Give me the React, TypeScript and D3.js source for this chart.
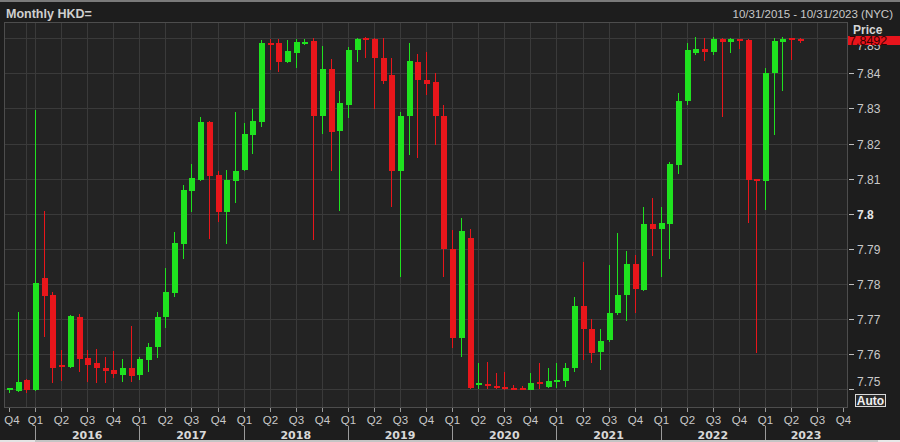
import React from "react";
import * as d3 from "d3";

// Monthly candles, Oct 2015 .. May 2023 (index 0 = Oct 2015)
const openV = [
  7.7497, 7.7495, 7.7526, 7.7499, 7.7818, 7.7768, 7.7568, 7.7564, 7.7707, 7.7588,
  7.7574, 7.7562, 7.7554, 7.7541, 7.7561, 7.7540, 7.7583, 7.7621, 7.7705, 7.7773,
  7.7914, 7.8066, 7.8097, 7.8260, 7.8110, 7.8006, 7.8094, 7.8124, 7.8225, 7.8262,
  7.8487, 7.8486, 7.8432, 7.8459, 7.8485, 7.8492, 7.8277, 7.8411, 7.8236, 7.8310,
  7.8465, 7.8499, 7.8497, 7.8444, 7.8395, 7.8123, 7.8277, 7.8431, 7.8381, 7.8374,
  7.8277, 7.7900, 7.7645, 7.7932, 7.7512, 7.7513, 7.7508, 7.7505, 7.7503, 7.7502,
  7.7499, 7.7521, 7.7507, 7.7522, 7.7525, 7.7562, 7.7737, 7.7671, 7.7607, 7.7640,
  7.7716, 7.7768, 7.7856, 7.7783, 7.7971, 7.7956, 7.7971, 7.8139, 7.8322, 7.8457,
  7.8469, 7.8461, 7.8497, 7.8490, 7.8497, 7.8494, 7.8098, 7.8094, 7.8402, 7.8490,
  7.8498, 7.8498,
];
const highV = [
  7.7505, 7.7721, 7.7529, 7.8295, 7.8009, 7.7776, 7.7612, 7.7713, 7.7715, 7.7612,
  7.7615, 7.7591, 7.7609, 7.7586, 7.7680, 7.7592, 7.7631, 7.7721, 7.7846, 7.7949,
  7.8082, 7.8142, 7.8275, 7.8263, 7.8122, 7.8126, 7.8291, 7.8258, 7.8298, 7.8495,
  7.8498, 7.8497, 7.8495, 7.8497, 7.8497, 7.8500, 7.8478, 7.8440, 7.8350, 7.8476,
  7.8500, 7.8503, 7.8500, 7.8500, 7.8443, 7.8290, 7.8485, 7.8455, 7.8461, 7.8400,
  7.8310, 7.7954, 7.7987, 7.7956, 7.7574, 7.7579, 7.7546, 7.7550, 7.7512, 7.7508,
  7.7547, 7.7574, 7.7560, 7.7574, 7.7576, 7.7764, 7.7863, 7.7699, 7.7671, 7.7854,
  7.7944, 7.7894, 7.7883, 7.8020, 7.8044, 7.8020, 7.8148, 7.8345, 7.8485, 7.8502,
  7.8500, 7.8502, 7.8500, 7.8500, 7.8499, 7.8499, 7.8100, 7.8414, 7.8500, 7.8502,
  7.8500, 7.8500,
];
const lowV = [
  7.7490, 7.7493, 7.7490, 7.7495, 7.7650, 7.7517, 7.7524, 7.7561, 7.7550, 7.7521,
  7.7517, 7.7517, 7.7532, 7.7521, 7.7521, 7.7527, 7.7550, 7.7588, 7.7676, 7.7764,
  7.7870, 7.8006, 7.8094, 7.7928, 7.7977, 7.7914, 7.8032, 7.8121, 7.8169, 7.8246,
  7.8409, 7.8405, 7.8428, 7.8414, 7.8480, 7.7925, 7.8227, 7.8122, 7.8008, 7.8272,
  7.8431, 7.8445, 7.8298, 7.8370, 7.8018, 7.7819, 7.8167, 7.8160, 7.8338, 7.8196,
  7.7821, 7.7617, 7.7593, 7.7500, 7.7500, 7.7500, 7.7500, 7.7499, 7.7498, 7.7498,
  7.7497, 7.7500, 7.7503, 7.7505, 7.7506, 7.7550, 7.7583, 7.7576, 7.7555, 7.7636,
  7.7712, 7.7695, 7.7716, 7.7781, 7.7880, 7.7821, 7.7870, 7.8113, 7.8310, 7.8451,
  7.8434, 7.8452, 7.8275, 7.8459, 7.8470, 7.7973, 7.7604, 7.8011, 7.8224, 7.8351,
  7.8438, 7.8487,
];
const closeV = [
  7.7502, 7.7522, 7.7499, 7.7802, 7.7766, 7.7562, 7.7564, 7.7709, 7.7586, 7.7569,
  7.7562, 7.7553, 7.7543, 7.7562, 7.7539, 7.7586, 7.7621, 7.7707, 7.7776, 7.7916,
  7.8068, 7.8101, 7.8260, 7.8107, 7.8004, 7.8097, 7.8123, 7.8227, 7.8264, 7.8486,
  7.8481, 7.8433, 7.8464, 7.8490, 7.8489, 7.8277, 7.8411, 7.8234, 7.8316, 7.8466,
  7.8497, 7.8497, 7.8443, 7.8379, 7.8123, 7.8278, 7.8436, 7.8381, 7.8370, 7.8277,
  7.7899, 7.7645, 7.7951, 7.7503, 7.7517, 7.7509, 7.7504, 7.7502, 7.7501, 7.7500,
  7.7517, 7.7517, 7.7523, 7.7526, 7.7561, 7.7737, 7.7671, 7.7604, 7.7638, 7.7718,
  7.7770, 7.7856, 7.7785, 7.7971, 7.7956, 7.7975, 7.8141, 7.8322, 7.8466, 7.8469,
  7.8461, 7.8497, 7.8490, 7.8497, 7.8494, 7.8096, 7.8094, 7.8402, 7.8492, 7.8497,
  7.8496, 7.8492,
];

const priceTicks = [7.75, 7.76, 7.77, 7.78, 7.79, 7.8, 7.81, 7.82, 7.83, 7.84, 7.85];
const quarterLabels = [
  "Q4",
  "Q1", "Q2", "Q3", "Q4",
  "Q1", "Q2", "Q3", "Q4",
  "Q1", "Q2", "Q3", "Q4",
  "Q1", "Q2", "Q3", "Q4",
  "Q1", "Q2", "Q3", "Q4",
  "Q1", "Q2", "Q3", "Q4",
  "Q1", "Q2", "Q3", "Q4",
  "Q1", "Q2", "Q3", "Q4",
];
const yearLabels = ["2016", "2017", "2018", "2019", "2020", "2021", "2022", "2023"];
const lastPrice = 7.8492;
const titleText = "Monthly HKD=";
const rangeText = "10/31/2015 - 10/31/2023 (NYC)";

const W = 900;
const H = 442;
const PL = 4.5, PR = 847, PT = 22.5, PB = 407;
const UP = "#1fe21f";
const DOWN = "#e8161b";
const TXT = "#c9c9c9";
const AX_FONT = "'Liberation Sans', Arial, sans-serif";

export default function App() {
  const x = d3.scaleLinear().domain([0, 96]).range([9, 843.2]);
  const y = d3.scaleLinear().domain([7.75, 7.84]).range([389.3, 73.3]);

  const candles = openV.map((o, i) => ({
    i,
    o,
    h: highV[i],
    l: lowV[i],
    c: closeV[i],
  }));

  const quarterIdx = quarterLabels.map((_, k) => k * 3);
  const gridIdx = [2, ...quarterIdx.filter((q) => q > 0 && q < 96)];

  return (
    <svg
      width={W}
      height={H}
      style={{ position: "absolute", left: 0, top: 0, display: "block" }}
      shapeRendering="crispEdges"
    >
      <rect x={0} y={0} width={W} height={H} fill="#1d1d1d" />
      <rect x={0} y={0} width={W} height={1.5} fill="#7a7a7a" />

      {/* title bar */}
      <text
        x={6}
        y={17.5}
        fill="#cfcfcf"
        fontFamily={AX_FONT}
        fontWeight="bold"
        fontSize={12.5}
      >
        {titleText}
      </text>
      <text
        x={893}
        y={17.5}
        fill={TXT}
        fontFamily={AX_FONT}
        fontSize={11.5}
        textAnchor="end"
      >
        {rangeText}
      </text>

      {/* plot area */}
      <rect x={PL} y={PT} width={PR - PL} height={PB - PT} fill="#232323" />
      <g stroke="#3a3a3a" strokeWidth={1}>
        {priceTicks.map((t) => (
          <line key={t} x1={PL} x2={PR} y1={Math.round(y(t)) + 0.5} y2={Math.round(y(t)) + 0.5} />
        ))}
        {gridIdx.map((q) => (
          <line key={q} x1={Math.round(x(q)) + 0.5} x2={Math.round(x(q)) + 0.5} y1={PT} y2={PB} />
        ))}
      </g>
      <rect
        x={PL}
        y={PT}
        width={PR - PL}
        height={PB - PT}
        fill="none"
        stroke="#4d4d4d"
        strokeWidth={1}
      />

      {/* candles */}
      <g>
        {candles.map((d) => {
          const cx = Math.round(x(d.i));
          const col = d.c >= d.o ? UP : DOWN;
          const yHi = y(d.h);
          const yLo = y(d.l);
          const bTop = y(Math.max(d.o, d.c));
          const bBot = y(Math.min(d.o, d.c));
          const bh = Math.max(2, bBot - bTop);
          const bt = bh === 2 ? (bTop + bBot) / 2 - 1 : bTop;
          return (
            <g key={d.i} fill={col}>
              <rect x={cx} y={yHi} width={1} height={Math.max(1, yLo - yHi)} />
              <rect x={cx - 2.5} y={bt} width={6} height={bh} />
            </g>
          );
        })}
      </g>

      {/* right axis */}
      <g fontFamily={AX_FONT} fontSize={12} fill={TXT}>
        {priceTicks.map((t) => {
          const yy = Math.round(y(t)) + 0.5;
          if (t === 7.85) {
            return (
              <text key={t} x={857} y={50}>
                {d3.format(".2f")(t)}
              </text>
            );
          }
          const isBold = t === 7.8;
          const label = isBold ? "7.8" : d3.format(".2f")(t);
          const ty = t === 7.75 ? yy - 4 : yy + 4.3;
          return (
            <g key={t}>
              <line x1={849} x2={854} y1={yy} y2={yy} stroke="#bdbdbd" />
              <text
                x={857}
                y={ty}
                fontWeight={isBold ? "bold" : "normal"}
                fill={isBold ? "#e6e6e6" : TXT}
              >
                {label}
              </text>
            </g>
          );
        })}
        <text x={853} y={34} fontWeight="bold" fill="#d6d6d6">
          Price
        </text>
        <rect x={848} y={36} width={52} height={9} fill="#e8141c" />
        <text x={849} y={44.5} fill="#3a0000" fontSize={12.5}>
          {d3.format(".4f")(lastPrice)}
        </text>
        <rect x={855.5} y={394.5} width={30} height={12} fill="#2a2a2a" stroke="#d8d8d8" />
        <text
          x={870.5}
          y={404.8}
          textAnchor="middle"
          fontWeight="bold"
          fontSize={12}
          fill="#f0f0f0"
        >
          Auto
        </text>
      </g>

      {/* bottom axis */}
      <g fontFamily={AX_FONT} fontSize={11.5} fill={TXT}>
        {quarterLabels.map((q, k) => {
          const xx = Math.round(x(k * 3)) + 0.5;
          return (
            <g key={k}>
              <line x1={xx} x2={xx} y1={408} y2={412} stroke="#9a9a9a" />
              <text x={Math.max(xx, 12)} y={424} textAnchor="middle">
                {q}
              </text>
            </g>
          );
        })}
        {yearLabels.map((yr, k) => {
          const s = x(3 + 12 * k);
          const e = Math.min(x(15 + 12 * k), PR);
          const sx = Math.round(s) + 0.5;
          return (
            <g key={yr}>
              <line x1={sx} x2={sx} y1={426} y2={442} stroke="#9a9a9a" />
              <text
                x={(s + e) / 2}
                y={438.5}
                textAnchor="middle"
                fontFamily="'DejaVu Sans', Verdana, sans-serif"
                fontWeight="bold"
                fontSize={11}
                fill="#d8d8d8"
              >
                {yr}
              </text>
            </g>
          );
        })}
      </g>

      {/* scrollbar strip */}
      <rect x={0} y={439.5} width={W} height={2.5} fill="#c4c4c4" />
      <rect x={0} y={439.5} width={35} height={2.5} fill="#e4e4e4" />
      <rect x={878} y={439.5} width={22} height={2.5} fill="#e8e8e8" />
    </svg>
  );
}
